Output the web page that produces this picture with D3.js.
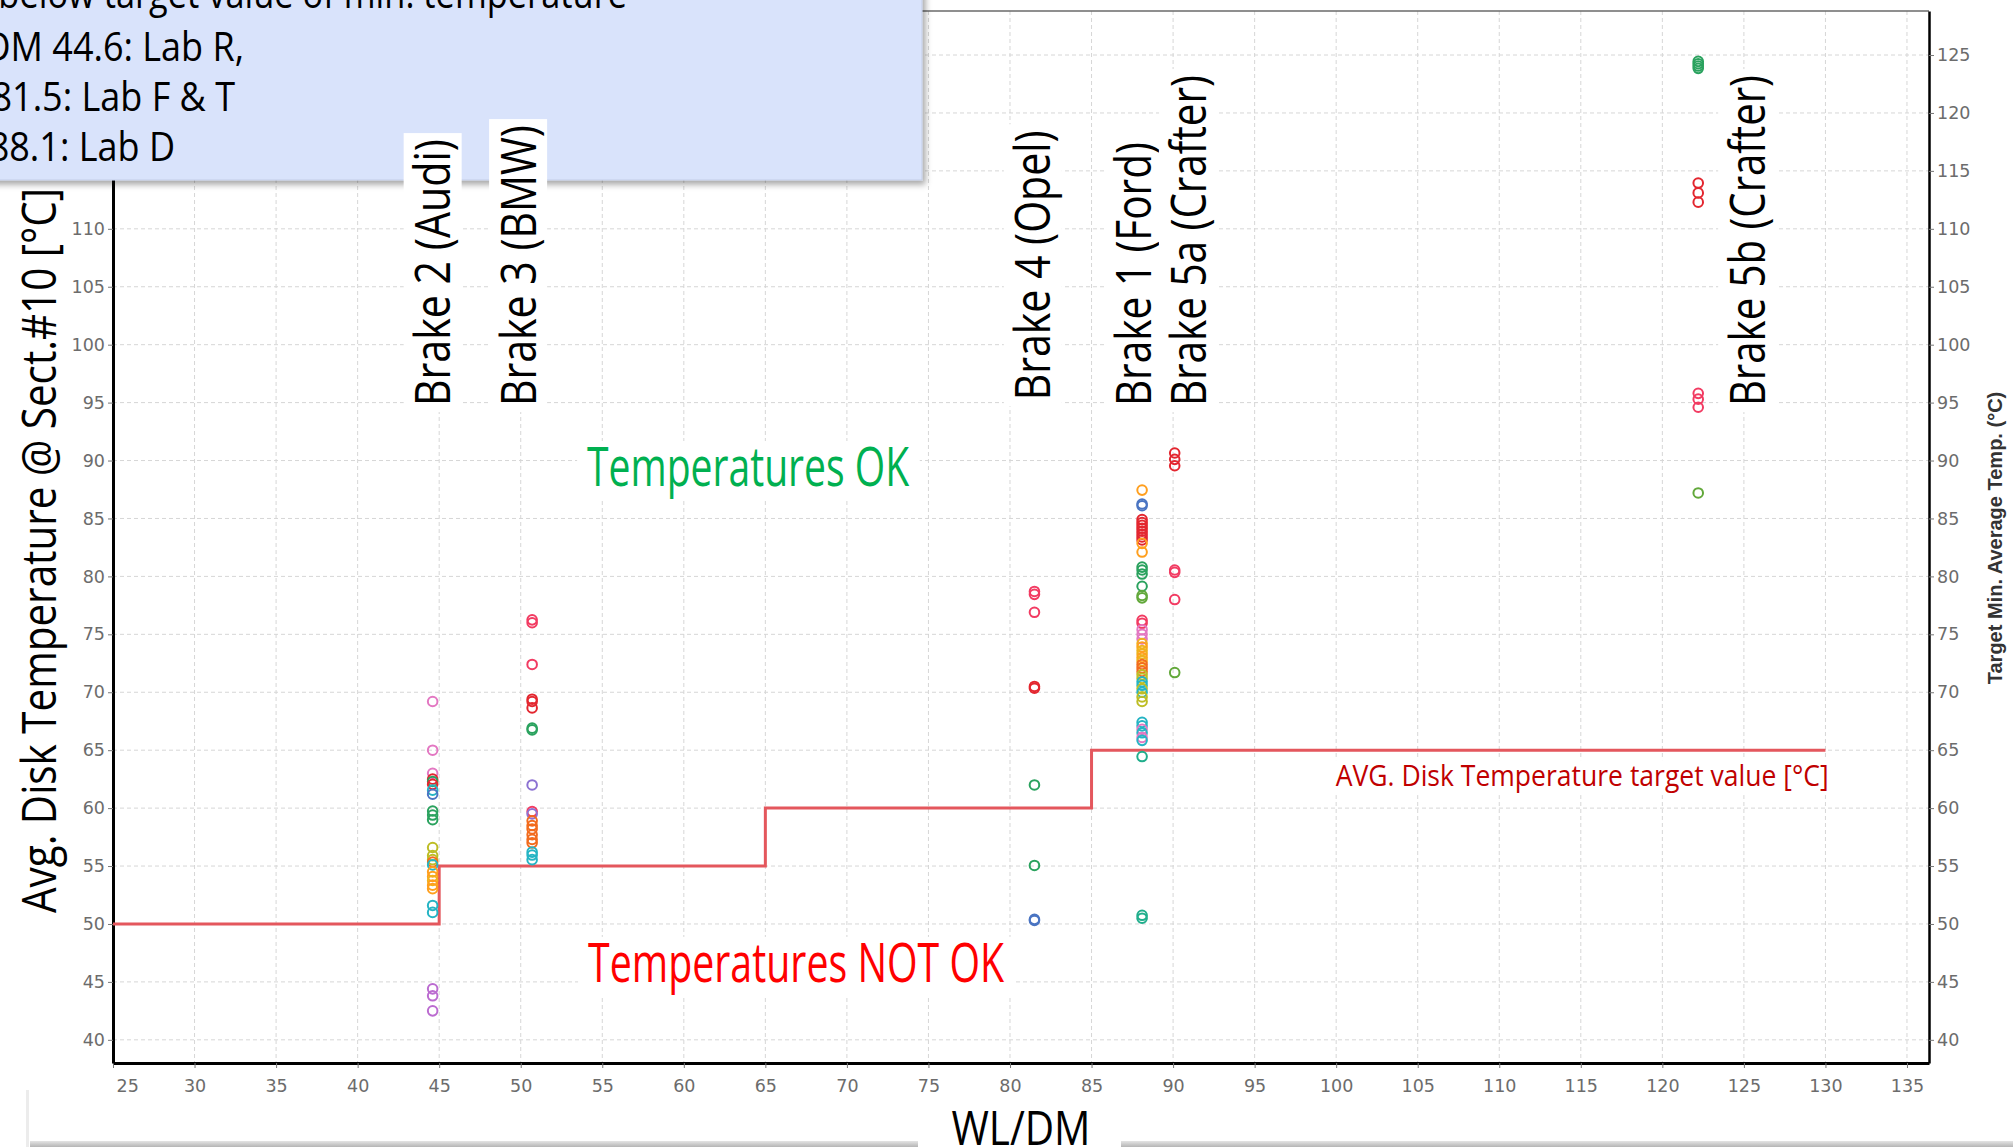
<!DOCTYPE html>
<html><head><meta charset="utf-8">
<script src="https://cdn.jsdelivr.net/npm/d3@7"></script>
<style>
html,body{margin:0;padding:0;background:#fff;overflow:hidden}
svg{display:block}
</style></head><body>
<svg id="chart" width="2013" height="1147"></svg>
<script>
// ---------------- data ----------------
const xTickValues = [25,30,35,40,45,50,55,60,65,70,75,80,85,90,95,100,105,110,115,120,125,130,135];
const yTickValues = [40,45,50,55,60,65,70,75,80,85,90,95,100,105,110,115,120,125];

const brakeNames = ["Brake 2 (Audi)","Brake 3 (BMW)","Brake 4 (Opel)","Brake 1 (Ford)","Brake 5a (Crafter)","Brake 5b (Crafter)"];
const brakeWLDM  = [44.6, 50.7, 81.5, 88.1, 90.1, 122.2];

const brake2Temps = [69.2,65.0,63.0,62.5,62.3,62.05,61.55,61.2,59.75,59.4,59.0,56.6,55.9,55.55,55.35,55.1,54.5,54.1,53.75,53.35,53.05,51.6,51.0,44.4,43.8,42.5];
const brake2Labs  = ["pink","pink","pink","red","green","red","teal","blue","green","green","green","olive","olive","olive","orangered","teal","orange","orange","amber","orange","orange","teal","teal","lilac","lilac","lilac"];

const brake3Temps = [76.25,76.0,72.4,69.4,69.2,68.65,66.9,66.75,62.0,59.7,59.5,58.9,58.5,58.2,57.7,57.3,57.0,56.2,55.95,55.55];
const brake3Labs  = ["crimson","crimson","crimson","red","red","red","green","green","purple","crimson","purple","orangered","orangered","orangered","orangered","orangered","orangered","teal","teal","teal"];

const brake4Temps = [78.7,78.45,76.9,70.5,70.35,62.0,55.05,50.4,50.3];
const brake4Labs  = ["crimson","crimson","crimson","red","red","green","green","blue","blue"];

const brake1Temps = [87.45,86.25,86.1,84.9,84.65,84.4,84.15,83.9,83.65,83.4,83.15,82.85,82.1,80.8,80.55,80.2,79.15,78.35,78.15,76.2,75.95,75.4,75.0,74.6,74.2,73.9,73.6,73.3,73.0,72.7,72.4,72.1,71.8,71.5,71.2,70.9,70.6,70.3,70.0,69.6,69.2,67.4,67.1,66.8,66.5,66.1,65.85,64.45,50.75,50.5];
const brake1Labs  = ["orange","blue","blue","red","red","red","red","red","red","red","red","orange","orange","green","green","green","green","leaf","leaf","crimson","crimson","pink","pink","pink","amber","orange","amber","amber","orange","amber","orangered","orangered","orangered","olive","olive","teal","teal","olive","teal","olive","olive","teal","teal","pink","teal","pink","teal","jade","jade","jade"];

const brake5aTemps = [90.65,90.1,89.55,80.55,80.35,78.0,71.7];
const brake5aLabs  = ["red","red","red","crimson","crimson","crimson","leaf"];

const brake5bTemps = [124.45,124.25,124.05,123.85,113.95,113.1,112.3,95.8,95.3,94.6,87.2];
const brake5bLabs  = ["green","green","green","green","red","red","red","crimson","crimson","crimson","leaf"];

const targetWLDM  = [25, 45, 65, 85, 130];
const targetTemps = [50, 55, 60, 65, 65];

const noteLines = ["Samples below target value of min. temperature","WL/DM 44.6: Lab R,","WL/DM 81.5: Lab F & T","WL/DM 88.1: Lab D"];

const labColors = {pink:"#e377c2", red:"#e3262f", crimson:"#f23b62", green:"#2aa25e", teal:"#25b4c4", blue:"#4a74c2",
  orange:"#ff9f1e", orangered:"#f26b1d", olive:"#bdbd25", amber:"#efb21c", purple:"#8c72d2", lilac:"#bb6bd0", leaf:"#62a83a", jade:"#20ae8c"};

// ---------------- drawing ----------------
const W = 2013, H = 1147;
const svg = d3.select("#chart");
const x = d3.scaleLinear().domain([25, 136.35]).range([113, 1929]);
const y = d3.scaleLinear().domain([38, 128.8]).range([1063, 11]);
const [x0, x1] = x.range(), [y0, y1] = y.range();

const defs = svg.append("defs");
const f = defs.append("filter").attr("id","shadow").attr("x","-10%").attr("y","-10%").attr("width","130%").attr("height","140%");
f.append("feDropShadow").attr("dx",3).attr("dy",4).attr("stdDeviation",3).attr("flood-color","#000").attr("flood-opacity",0.35);
const grad = defs.append("linearGradient").attr("id","bar").attr("x1",0).attr("x2",0).attr("y1",0).attr("y2",1);
grad.append("stop").attr("offset","0").attr("stop-color","#e4e4e4");
grad.append("stop").attr("offset","1").attr("stop-color","#b5b5b5");

// grid
const grid = svg.append("g");
grid.selectAll(".vg").data(xTickValues).join("line")
  .attr("x1", d=>x(d)).attr("x2", d=>x(d)).attr("y1", y1).attr("y2", y0)
  .attr("stroke","#d6d6d6").attr("stroke-width",1).attr("stroke-dasharray","4,3");
grid.selectAll(".hg").data(yTickValues).join("line")
  .attr("x1", x0).attr("x2", x1).attr("y1", d=>y(d)).attr("y2", d=>y(d))
  .attr("stroke","#d6d6d6").attr("stroke-width",1).attr("stroke-dasharray","4,3");

// top frame line
svg.append("line").attr("x1",x0).attr("x2",x1).attr("y1",y1).attr("y2",y1).attr("stroke","#6a6a6a").attr("stroke-width",1.5);

// axes
function styleAxis(g, w){
  g.select(".domain").attr("stroke","#000").attr("stroke-width",w);
  g.selectAll(".tick line").attr("stroke","#777");
  g.selectAll(".tick text").attr("fill","#6c6c6c").attr("font-family","'DejaVu Sans', Verdana, sans-serif").attr("font-size",17.5);
}
const gx = svg.append("g").attr("transform",`translate(0,${y0})`)
  .call(d3.axisBottom(x).tickValues(xTickValues).tickSize(5).tickPadding(12).tickSizeOuter(0).tickFormat(d3.format("d")));
styleAxis(gx, 3);
gx.selectAll(".tick text").filter(d=>d===25).attr("text-anchor","start").attr("dx",3);
const gy = svg.append("g").attr("transform",`translate(${x0},0)`)
  .call(d3.axisLeft(y).tickValues(yTickValues).tickSize(5).tickPadding(3).tickSizeOuter(0).tickFormat(d3.format("d")));
styleAxis(gy, 3);
const gyr = svg.append("g").attr("transform",`translate(${x1},0)`)
  .call(d3.axisRight(y).tickValues(yTickValues).tickSize(5).tickPadding(3).tickSizeOuter(0).tickFormat(d3.format("d")));
styleAxis(gyr, 2.5);

// target step line
const stepData = targetWLDM.map((v,i)=>[v, targetTemps[i]]);
svg.append("path").datum(stepData)
  .attr("d", d3.line().x(d=>x(d[0])).y(d=>y(d[1])).curve(d3.curveStepAfter))
  .attr("fill","none").attr("stroke","#e4575d").attr("stroke-width",3);

// points
const tempsList = [brake2Temps, brake3Temps, brake4Temps, brake1Temps, brake5aTemps, brake5bTemps];
const labsList  = [brake2Labs, brake3Labs, brake4Labs, brake1Labs, brake5aLabs, brake5bLabs];
const pts = [];
brakeWLDM.forEach((wx,i)=>{ tempsList[i].forEach((t,j)=>pts.push({wx, t, lab: labsList[i][j]})); });
svg.append("g").selectAll("circle").data(pts).join("circle")
  .attr("cx", d=>x(d.wx)).attr("cy", d=>y(d.t)).attr("r",4.8)
  .attr("fill","none").attr("stroke", d=>labColors[d.lab]).attr("stroke-width",2);

const FONT = "'Open Sans', 'Noto Sans', sans-serif";

// helper: text with white background
function bgText(parent, opts){
  const g = parent.append("g");
  const bg = g.append("rect").attr("fill","#fff");
  const t = g.append("text").text(opts.text)
    .attr("font-family", FONT).attr("font-size", opts.size).attr("fill", opts.fill)
    .attr("text-anchor", opts.anchor || "start")
    .attr("x", opts.x).attr("y", opts.y)
    .attr("textLength", opts.len).attr("lengthAdjust","spacingAndGlyphs");
  const bb = t.node().getBBox();
  const p = opts.pad || [10, 45, 14];
  bg.attr("x", bb.x - p[0]).attr("width", bb.width + 2*p[0])
    .attr("y", opts.y - p[1]).attr("height", p[1] + p[2]);
  return g;
}

const ann = svg.append("g");
bgText(ann, {text:"Temperatures OK", x: x(54.07), y: y(87.8), size: 54, fill:"#00b050", len: 322});
bgText(ann, {text:"Temperatures NOT OK", x: x(54.13), y: y(45.0), size: 54, fill:"#ff0000", len: 416});
bgText(ann, {text:"AVG. Disk Temperature target value [°C]", x: x(130.2), y: y(61.9), size: 30, fill:"#c00000", len: 493, anchor:"end", pad:[4,26,9]});

// note box (top-left)
const box = svg.append("g");
box.append("rect").attr("x",-20).attr("y",-20).attr("width",942).attr("height",200)
  .attr("fill","#d9e3fb").attr("stroke","#c3cde6").attr("stroke-width",1).attr("filter","url(#shadow)");
const noteRight = [627, 244, 235, 175];
const noteBase  = [8, 61, 111, 161];
const noteScale = [0.86, 0.9, 0.9, 0.9];
noteLines.forEach((s,i)=>{
  box.append("text").text(s)
    .attr("transform",`translate(${noteRight[i]},${noteBase[i]}) scale(${noteScale[i]},1)`)
    .attr("text-anchor","end").attr("font-family",FONT).attr("font-size",40).attr("fill","#000");
});

// brake labels
const labelWLDM = [44.6, 49.84, 81.4, 87.6, 90.92, 125.2];
const labelBase = [94.7, 94.7, 95.2, 94.7, 94.7, 94.7];
const labelLen  = [267, 281, 270, 264, 331, 331];
const lab = svg.append("g");
brakeNames.forEach((name,i)=>{
  const cx = x(labelWLDM[i]), by = y(labelBase[i]);
  const g = lab.append("g");
  g.append("rect").attr("x", cx-29).attr("width",58).attr("y", by - labelLen[i] - 6).attr("height", labelLen[i] + 12).attr("fill","#fff");
  g.append("text").text(name)
    .attr("transform",`translate(${cx},${by}) rotate(-90)`)
    .attr("dy","0.35em").attr("font-family",FONT).attr("font-size",50).attr("fill","#000")
    .attr("textLength", labelLen[i]).attr("lengthAdjust","spacingAndGlyphs");
});

// axis titles
svg.append("text").text("Avg. Disk Temperature @ Sect.#10 [°C]")
  .attr("transform",`translate(39,${(188+913)/2}) rotate(-90)`)
  .attr("text-anchor","middle").attr("dy","0.35em")
  .attr("font-family",FONT).attr("font-size",48).attr("fill","#000")
  .attr("textLength",725).attr("lengthAdjust","spacingAndGlyphs");

svg.append("text").text("Target Min. Average Temp. (°C)")
  .attr("transform",`translate(1995,538) rotate(-90)`)
  .attr("text-anchor","middle").attr("dy","0.35em")
  .attr("font-family","'Liberation Sans', Arial, sans-serif").attr("font-weight","bold").attr("font-size",20).attr("fill","#333");

// bottom container shadow + x title
svg.append("rect").attr("x",30).attr("y",1141).attr("width",W-30).attr("height",6).attr("fill","url(#bar)");
svg.append("rect").attr("x",26).attr("y",1090).attr("width",3).attr("height",57).attr("fill","#ececec");
svg.append("rect").attr("x",918).attr("y",1095).attr("width",203).attr("height",52).attr("fill","#fff");
svg.append("text").text("WL/DM").attr("x",1021).attr("y",1145).attr("text-anchor","middle")
  .attr("font-family",FONT).attr("font-size",48).attr("fill","#000")
  .attr("textLength",139).attr("lengthAdjust","spacingAndGlyphs");
</script>
</body></html>
